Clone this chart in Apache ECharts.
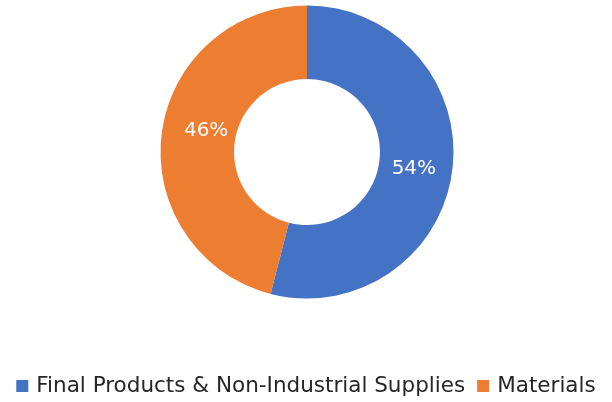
<!DOCTYPE html>
<html>
<head>
<meta charset="utf-8">
<script src="https://cdn.jsdelivr.net/npm/echarts@6/dist/echarts.min.js"></script>
<style>
html,body{margin:0;padding:0;background:#fff;}
#chart{width:612px;height:402px;}
</style>
</head>
<body>
<div id="chart"></div>
<script>
var categories = ['Final Products & Non-Industrial Supplies', 'Materials'];
var values = [54, 46];
var colors = ['#4472C4', '#ED7D31'];

var labelPads = [[0, 10, 0, 0], [0, 0, 0, 22]];
var labelOffsets = [[0, 3], [0, -7]];

var chart = echarts.init(document.getElementById('chart'), null, {renderer: 'canvas'});
chart.setOption({
  animation: false,
  color: colors,
  legend: {
    data: categories,
    bottom: 0,
    left: 'center',
    icon: 'rect',
    itemWidth: 12,
    itemHeight: 12,
    itemGap: 12,
    textStyle: {fontFamily: 'DejaVu Sans', fontSize: 21.5, color: '#262626', padding: [0, 0, 0, 3]}
  },
  series: [{
    type: 'pie',
    center: [307, 152],
    radius: [73, 146.5],
    startAngle: 90,
    clockwise: true,
    avoidLabelOverlap: false,
    label: {
      show: true,
      position: 'inside',
      formatter: '{d}%',
      color: '#ffffff',
      fontFamily: 'DejaVu Sans',
      fontSize: 20
    },
    labelLine: {show: false},
    itemStyle: {borderWidth: 0},
    data: categories.map(function (c, i) {
      return {name: c, value: values[i], label: {padding: labelPads[i], offset: labelOffsets[i]}};
    })
  }]
});
</script>
</body>
</html>
